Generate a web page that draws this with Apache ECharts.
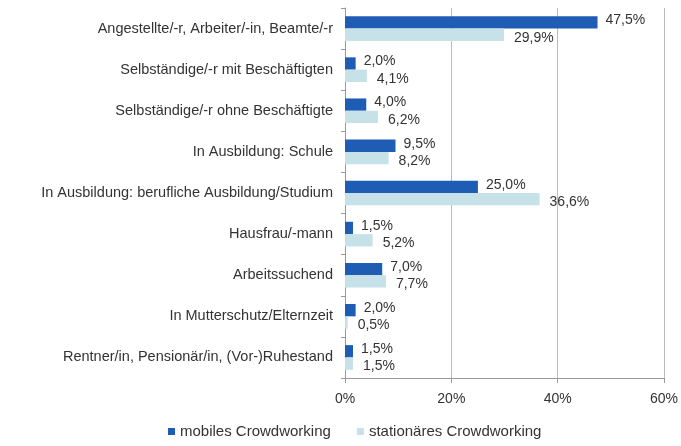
<!DOCTYPE html>
<html>
<head>
<meta charset="utf-8">
<script src="https://cdn.jsdelivr.net/npm/echarts@6/dist/echarts.min.js"></script>
<style>
  html, body { margin: 0; padding: 0; background: #fff; }
  #chart { width: 681px; height: 446px; }
</style>
</head>
<body>
<div id="chart"></div>
<script>
// categories top to bottom
const categories = [
  'Angestellte/-r, Arbeiter/-in, Beamte/-r',
  'Selbständige/-r mit Beschäftigten',
  'Selbständige/-r ohne Beschäftigte',
  'In Ausbildung: Schule',
  'In Ausbildung: berufliche Ausbildung/Studium',
  'Hausfrau/-mann',
  'Arbeitssuchend',
  'In Mutterschutz/Elternzeit',
  'Rentner/in, Pensionär/in, (Vor-)Ruhestand'
]
const mobiles = [47.5, 2.0, 4.0, 9.5, 25.0, 1.5, 7.0, 2.0, 1.5]
const stationaer = [29.9, 4.1, 6.2, 8.2, 36.6, 5.2, 7.7, 0.5, 1.5]
const seriesNames = ['mobiles Crowdworking', 'stationäres Crowdworking']

const font = 'Liberation Sans'
const fmt = v => v.toFixed(1).replace('.', ',') + '%'

const chart = echarts.init(document.getElementById('chart'))
chart.setOption({
  animation: false,
  textStyle: { fontFamily: font },
  grid: { left: 345, right: 16, top: 8, bottom: 68 },
  legend: {
    bottom: 2,
    left: 163,
    itemWidth: 7,
    itemHeight: 7,
    itemGap: 26,
    icon: 'rect',
    textStyle: { fontSize: 15, color: '#333', fontFamily: font },
    data: seriesNames
  },
  xAxis: {
    type: 'value',
    min: 0,
    max: 60,
    interval: 20,
    axisLine: { show: true, lineStyle: { color: '#999' } },
    axisTick: { show: true, length: 5, lineStyle: { color: '#999' } },
    axisLabel: { formatter: '{value}%', fontSize: 14, color: '#333', margin: 14 },
    splitLine: { show: true, lineStyle: { color: '#bbb' } }
  },
  yAxis: {
    type: 'category',
    data: categories,
    inverse: true,
    axisLine: { show: true, lineStyle: { color: '#999' } },
    axisTick: { show: true, length: 4, lineStyle: { color: '#999' } },
    axisLabel: { fontSize: 14.5, color: '#333', margin: 12 }
  },
  series: [
    {
      name: seriesNames[0],
      type: 'bar',
      data: mobiles,
      barCategoryGap: '40%',
      barGap: '0%',
      itemStyle: { color: '#1f5db5' },
      label: { show: true, position: 'right', distance: 8, offset: [0, -2], fontSize: 14, color: '#333', formatter: p => fmt(p.value) }
    },
    {
      name: seriesNames[1],
      type: 'bar',
      data: stationaer,
      itemStyle: { color: '#c6e1e8' },
      label: { show: true, position: 'right', distance: 10, offset: [0, 3], fontSize: 14, color: '#333', formatter: p => fmt(p.value) }
    }
  ]
})
</script>
</body>
</html>
